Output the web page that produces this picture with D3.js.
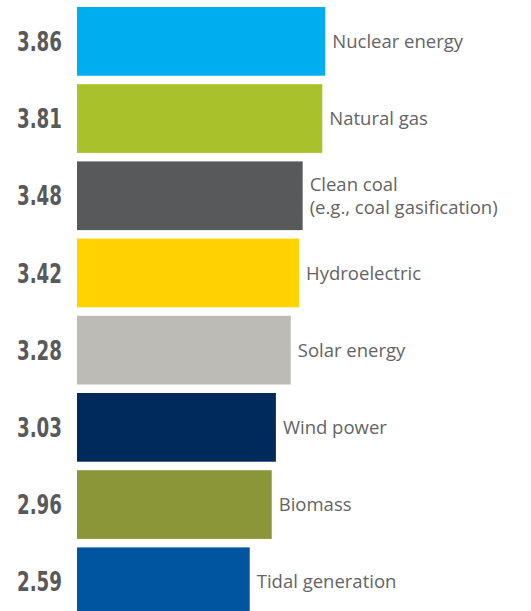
<!DOCTYPE html>
<html>
<head>
<meta http-equiv="content-type" content="text/html; charset=UTF8">
<script src="https://cdn.jsdelivr.net/npm/d3@7/dist/d3.min.js"></script>
<style>
body {
	margin: 0;
	background: #fff;
}
.chart {
	width: 531px;
	height: 611px;
	display: block;
}
.value {
	font-family: "DejaVu Sans", sans-serif;
	font-size: 27px;
	font-weight: bold;
	fill: #58595b;
}
.label {
	font-family: "Open Sans", "Noto Sans", sans-serif;
	font-size: 18.5px;
	fill: #646464;
}
</style>
</head>
<body>
<svg class="chart"></svg>
<script>
var categories = ["Nuclear energy", "Natural gas", "Clean coal|(e.g., coal gasification)", "Hydroelectric",
	"Solar energy", "Wind power", "Biomass", "Tidal generation"];
var values = [3.86, 3.81, 3.48, 3.42, 3.28, 3.03, 2.96, 2.59];
var colors = ["#00aeef", "#a9c22b", "#58595b", "#ffd200", "#bdbbb5", "#002a5c", "#8a9638", "#0055a0"];

var barLeft = 77,
	chartTop = 7,
	step = 77.2;

var data = categories.map(function(c, i) { return {name: c, value: values[i], color: colors[i]}; });

// bar length does not start at zero in the original graphic
var x = d3.scaleLinear()
	.domain([0, 4])
	.range([18.6, 256.6]);

var y = d3.scaleBand()
	.domain(categories)
	.range([chartTop - step * 0.055, chartTop - step * 0.055 + step * categories.length])
	.paddingInner(0.11)
	.paddingOuter(0.055);

var svg = d3.select(".chart");

var rows = svg.selectAll("g.row")
	.data(data)
	.enter()
	.append("g")
	.attr("class", "row")
	.attr("transform", function(d) { return "translate(0," + y(d.name) + ")"; });

rows.append("rect")
	.attr("x", barLeft)
	.attr("y", 0)
	.attr("width", function(d) { return x(d.value); })
	.attr("height", y.bandwidth())
	.attr("fill", function(d) { return d.color; });

rows.append("text")
	.attr("class", "value")
	.attr("x", 17)
	.attr("y", y.bandwidth() / 2)
	.attr("dy", "0.36em")
	.attr("textLength", 45)
	.attr("lengthAdjust", "spacingAndGlyphs")
	.text(function(d) { return d.value.toFixed(2); });

var labels = rows.append("text")
	.attr("class", "label")
	.attr("x", function(d) { return barLeft + x(d.value) + 7; })
	.attr("y", y.bandwidth() / 2);

labels.each(function(d) {
	var lines = d.name.split("|");
	var t = d3.select(this);
	lines.forEach(function(l, i) {
		t.append("tspan")
			.attr("x", barLeft + x(d.value) + 7)
			.attr("dy", i == 0 ? (0.36 - (lines.length - 1) * 0.62) + "em" : "1.25em")
			.text(l);
	});
});
</script>
</body>
</html>
